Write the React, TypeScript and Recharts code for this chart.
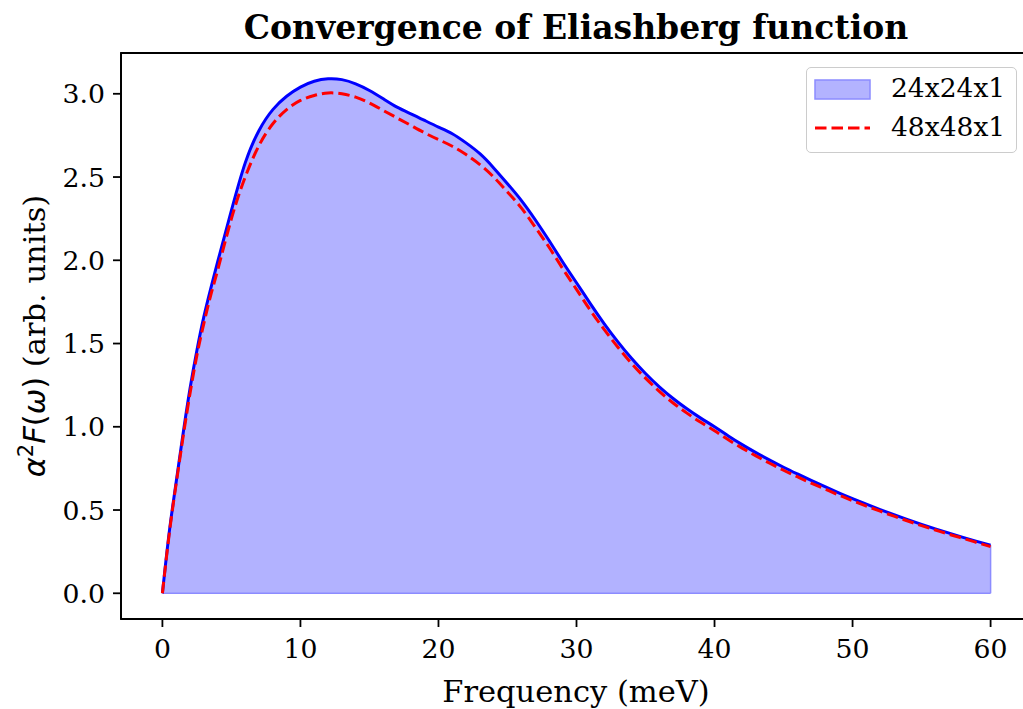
import * as React from "react";
import {
  Area,
  ComposedChart,
  Line,
  ReferenceArea,
  ReferenceLine,
  XAxis,
  YAxis,
} from "recharts";

// frequency grid (meV)
const freq = [
  0, 0.5, 1, 1.5, 2, 2.5, 3, 3.5, 4, 5, 6, 7, 8, 9, 10, 11, 12, 13, 14, 15, 16, 17, 18, 19, 20,
  21, 22, 23, 24, 25, 26, 27, 28, 29, 30, 31, 32, 33, 34, 35, 36, 37, 38, 39, 40, 41, 42, 43, 44,
  45, 46, 47, 48, 49, 50, 51, 52, 53, 54, 55, 56, 57, 58, 59, 60,
];

// a2F for the 24x24x1 grid
const g24 = [
  0, 0.37, 0.67, 0.96, 1.23, 1.46, 1.66, 1.83, 1.99, 2.3, 2.585, 2.78, 2.905, 2.985, 3.04, 3.075,
  3.09, 3.085, 3.06, 3.02, 2.97, 2.92, 2.88, 2.84, 2.8, 2.76, 2.705, 2.64, 2.555, 2.46, 2.36, 2.245,
  2.12, 1.99, 1.865, 1.74, 1.62, 1.51, 1.41, 1.32, 1.24, 1.17, 1.108, 1.052, 1.0, 0.945, 0.893,
  0.845, 0.8, 0.757, 0.717, 0.678, 0.64, 0.603, 0.568, 0.535, 0.503, 0.472, 0.442, 0.414, 0.387,
  0.361, 0.336, 0.312, 0.289,
];

// a2F for the 48x48x1 grid
const g48 = [
  0, 0.36, 0.66, 0.94, 1.2, 1.43, 1.62, 1.79, 1.94, 2.25, 2.5, 2.69, 2.82, 2.905, 2.96, 2.99, 3.005,
  3.0, 2.98, 2.945, 2.9, 2.855, 2.81, 2.765, 2.725, 2.685, 2.635, 2.575, 2.5, 2.41, 2.315, 2.2,
  2.08, 1.95, 1.825, 1.7, 1.585, 1.478, 1.38, 1.292, 1.213, 1.143, 1.082, 1.027, 0.976, 0.922,
  0.872, 0.825, 0.781, 0.739, 0.7, 0.662, 0.626, 0.59, 0.556, 0.524, 0.493, 0.463, 0.434, 0.406,
  0.38, 0.354, 0.33, 0.305, 0.28,
];

const xTicks = [0, 10, 20, 30, 40, 50, 60];
const yTicks = [0, 0.5, 1, 1.5, 2, 2.5, 3];
const seriesNames = ["24x24x1", "48x48x1"];

const FONT = "'DejaVu Serif', serif";
const MATH = "'DejaVu Sans', sans-serif";

const X_DOMAIN: [number, number] = [-3, 63];
const Y_DOMAIN: [number, number] = [-0.1545, 3.245];

function LegendBox() {
  return (
    <div
      style={{
        position: "absolute",
        left: 806,
        top: 67,
        width: 211,
        height: 86,
        boxSizing: "border-box",
        border: "1.5px solid #cccccc",
        borderRadius: 5,
        background: "rgba(255,255,255,0.8)",
        fontFamily: FONT,
        fontSize: 26.5,
        color: "#000",
      }}
    >
      <svg width={70} height={80} style={{ position: "absolute", left: 0, top: 0 }}>
        <rect x={8} y={12} width={55} height={19} fill="#b3b3ff" stroke="#8c8cff" strokeWidth={1.5} />
        <line x1={8} x2={63} y1={60} y2={60} stroke="#ff0000" strokeWidth={3} strokeDasharray="11.5 5" />
      </svg>
      <div style={{ position: "absolute", left: 84, top: 4, lineHeight: "32px" }}>{seriesNames[0]}</div>
      <div style={{ position: "absolute", left: 84, top: 43, lineHeight: "32px" }}>{seriesNames[1]}</div>
    </div>
  );
}

function YLabel() {
  return (
    <text
      transform="translate(45, 336) rotate(-90)"
      textAnchor="middle"
      fontFamily={FONT}
      fontSize={30.5}
      fill="#000"
    >
      <tspan fontFamily={MATH} fontStyle="italic">α</tspan>
      <tspan fontFamily={MATH} fontSize={21} dy={-12}>2</tspan>
      <tspan fontFamily={MATH} fontStyle="italic" dy={12}>F</tspan>
      <tspan fontFamily={MATH}>(</tspan>
      <tspan fontFamily={MATH} fontStyle="italic">ω</tspan>
      <tspan fontFamily={MATH}>)</tspan>
      <tspan> (arb. units)</tspan>
    </text>
  );
}

export default function App() {
  const data = React.useMemo(
    () => freq.map((f, i) => ({ freq: f, g24: g24[i], g48: g48[i] })),
    [],
  );
  const last = freq.length - 1;

  // the right spine falls just outside the cropped figure
  return (
    <div
      style={{
        position: "absolute",
        left: 0,
        top: 0,
        width: 1023,
        height: 709,
        overflow: "hidden",
        background: "#fff",
      }}
    >
      <ComposedChart
        width={1032}
        height={709}
        data={data}
        margin={{ top: 53, right: 0, bottom: 0, left: 0 }}
      >
        <text x={576} y={39} textAnchor="middle" fontFamily={FONT} fontWeight="bold" fontSize={33} fill="#000">
          Convergence of Eliashberg function
        </text>
        <text x={576} y={702} textAnchor="middle" fontFamily={FONT} fontSize={30.5} fill="#000">
          Frequency (meV)
        </text>
        <XAxis
          dataKey="freq"
          type="number"
          domain={X_DOMAIN}
          ticks={xTicks}
          allowDataOverflow
          height={90}
          axisLine={{ stroke: "#000", strokeWidth: 1.8 }}
          tickLine={{ stroke: "#000", strokeWidth: 1.8 }}
          tickSize={8}
          tickMargin={12}
          tick={{ fill: "#000", fontFamily: FONT, fontSize: 26.7 }}
        />
        <YAxis
          type="number"
          domain={Y_DOMAIN}
          ticks={yTicks}
          allowDataOverflow
          width={121}
          axisLine={{ stroke: "#000", strokeWidth: 1.8 }}
          tickLine={{ stroke: "#000", strokeWidth: 1.8 }}
          tickSize={8}
          tickMargin={8}
          tickFormatter={(v: number) => v.toFixed(1)}
          tick={{ fill: "#000", fontFamily: FONT, fontSize: 26.7 }}
        />
        <YLabel />
        <Area
          dataKey="g24"
          name={seriesNames[0]}
          type="natural"
          fill="#0000ff"
          fillOpacity={0.3}
          stroke="none"
          isAnimationActive={false}
        />
        <ReferenceLine
          segment={[
            { x: freq[0], y: 0 },
            { x: freq[last], y: 0 },
          ]}
          stroke="#8c8cff"
          strokeWidth={1.5}
        />
        <ReferenceLine
          segment={[
            { x: freq[last], y: 0 },
            { x: freq[last], y: g24[last] },
          ]}
          stroke="#8c8cff"
          strokeWidth={1.5}
        />
        <Line
          dataKey="g24"
          name={seriesNames[0]}
          type="natural"
          stroke="#0000ff"
          strokeWidth={3}
          dot={false}
          isAnimationActive={false}
        />
        <Line
          dataKey="g48"
          name={seriesNames[1]}
          type="natural"
          stroke="#ff0000"
          strokeWidth={3}
          strokeDasharray="11.5 5"
          dot={false}
          isAnimationActive={false}
        />
        <ReferenceArea
          x1={X_DOMAIN[0]}
          x2={X_DOMAIN[1]}
          y1={Y_DOMAIN[0]}
          y2={Y_DOMAIN[1]}
          fill="none"
          stroke="#000"
          strokeWidth={1.8}
          ifOverflow="visible"
        />
      </ComposedChart>
      <LegendBox />
    </div>
  );
}
